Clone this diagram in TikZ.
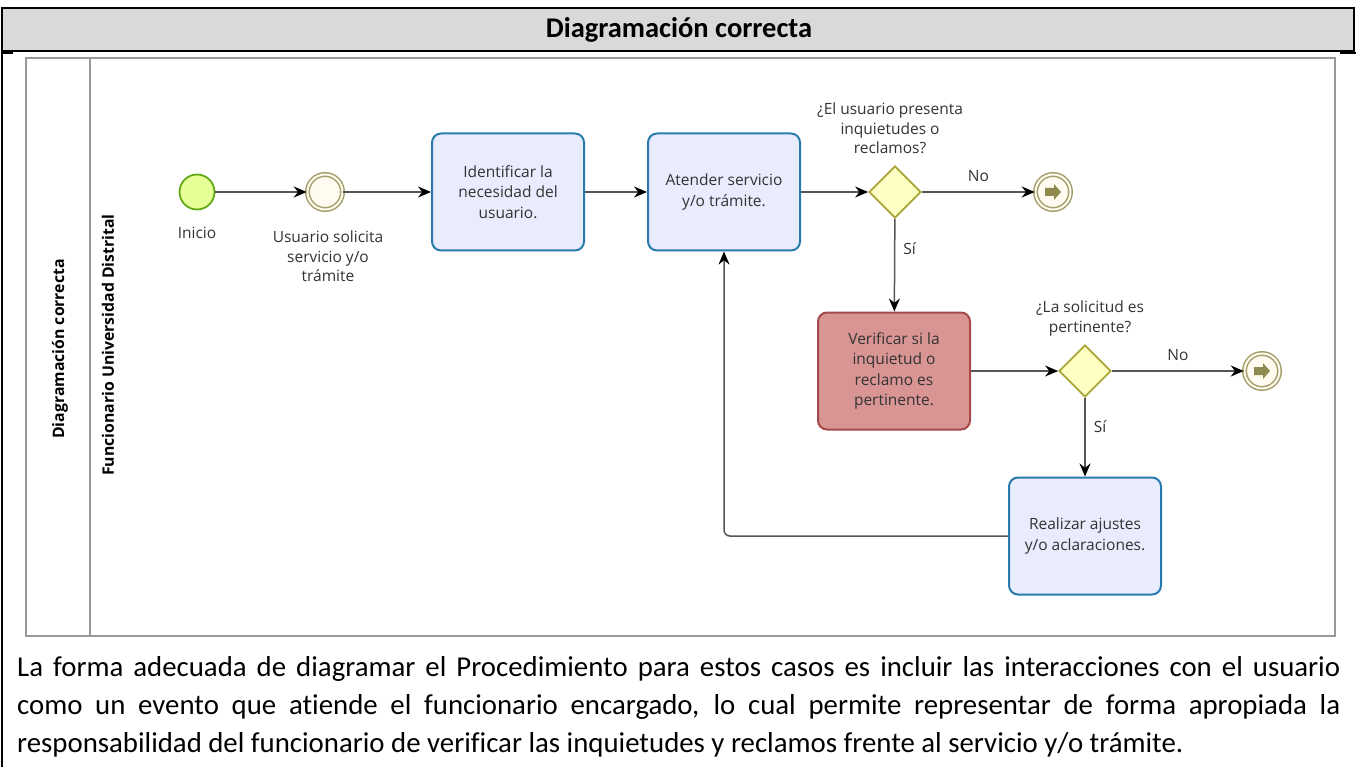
\documentclass[tikz,border=0pt]{standalone}
\usepackage{fontspec}
\setmainfont{Carlito}[Ligatures=NoCommon]
\newfontfamily\dg{Open Sans}
\usetikzlibrary{arrows.meta,shapes.geometric,calc}
\definecolor{taskfill}{HTML}{E8ECFC}
\definecolor{taskline}{HTML}{2A7AB0}
\definecolor{redfill}{HTML}{D99594}
\definecolor{redline}{HTML}{A44A4A}
\definecolor{gwfill}{HTML}{FFFFC4}
\definecolor{gwline}{HTML}{A8A632}
\definecolor{startfill}{HTML}{E6FF97}
\definecolor{startline}{HTML}{62A716}
\definecolor{evline}{HTML}{A39E6A}
\definecolor{evfill}{HTML}{FFFBF0}
\definecolor{endarrow}{HTML}{8E8A4E}
\definecolor{flow}{HTML}{555555}
\definecolor{txt}{HTML}{333333}
\definecolor{hdr}{HTML}{D9D9D9}
\begin{document}
\begin{tikzpicture}[x=1pt,y=-1pt,
  task/.style={draw=taskline,fill=taskfill,line width=2pt,rounded corners=9pt,minimum width=152pt,minimum height=117pt,align=center,font=\dg\fontsize{15.5}{20.5}\selectfont,text=txt,inner sep=0pt},
  redtask/.style={task,draw=redline,fill=redfill},
  gateway/.style={draw=gwline,fill=gwfill,line width=1.8pt,diamond,minimum width=52pt,minimum height=52pt,inner sep=0pt},
  lbl/.style={font=\dg\fontsize{15.5}{19.5}\selectfont,text=txt,align=center,inner sep=0pt},
  flowline/.style={draw=flow,line width=1.5pt,-{Stealth[length=13pt,width=11pt,black]}},
]
\useasboundingbox (0,0) rectangle (1356,767);
% table frame
\fill[hdr] (2,8) rectangle (1354,50);
\draw[line width=2pt] (1,8) -- (1355,8);
\draw[line width=1.5pt] (2,51) -- (1354,51);
\draw[line width=2pt] (2,7) -- (2,767);
\draw[line width=2pt] (1354,7) -- (1354,52);
\draw[line width=1.5pt] (2,53) -- (13,53);
\draw[line width=1.5pt] (1340,53) -- (1356,53);
\node[font=\bfseries\fontsize{28.5}{32}\selectfont] (title) at (679,30) {Diagramación correcta};
% pool
\draw[draw=gray!80,line width=1.5pt] (26,58) rectangle (1335,636);
\draw[draw=gray!80,line width=1.2pt] (90,58) -- (90,636);
\node[rotate=90,font=\dg\bfseries\fontsize{15.8}{18}\selectfont] (pool) at (60,349) {Diagramación correcta};
\node[rotate=90,font=\dg\bfseries\fontsize{15.8}{18}\selectfont] (lane) at (108,345) {Funcionario Universidad Distrital};
% events
\node[circle,draw=startline,fill=startfill,line width=1.8pt,minimum size=35pt,inner sep=0pt] (start) at (197,192) {};
\node[lbl,anchor=north] (startl) at (197,227) {Inicio};
\node[circle,draw=evline,fill=evfill,line width=1.5pt,minimum size=35pt,inner sep=0pt,double=evfill,double distance=2pt] (inter) at (325,192) {};
\node[lbl,anchor=north] (interl) at (328,231) {Usuario solicita\\servicio y/o\\trámite};
% tasks
\node[task] (t1) at (508,192) {Identificar la\\necesidad del\\usuario.};
\node[task] (t2) at (724,192) {Atender servicio\\y/o trámite.};
\node[gateway] (g1) at (895,192) {};
\node[lbl,anchor=south] (g1l) at (890,154) {¿El usuario presenta\\inquietudes o\\reclamos?};
\node[redtask] (t3) at (894,371) {Verificar si la\\inquietud o\\reclamo es\\pertinente.};
\node[gateway] (g2) at (1085,371) {};
\node[lbl,anchor=south] (g2l) at (1090,336) {¿La solicitud es\\pertinente?};
\node[task] (t4) at (1085,536) {Realizar ajustes\\y/o aclaraciones.};
% end events
\foreach \n/\x/\y in {e1/1053/192,e2/1262/371}{
  \node[circle,draw=evline,fill=evfill,line width=1.5pt,minimum size=35pt,inner sep=0pt,double=evfill,double distance=2pt] (\n) at (\x,\y) {};
  \fill[endarrow] ($(\x,\y)+(-8,-4)$) -- ++(9,0) -- ++(0,-4) -- ++(7,8) -- ++(-7,8) -- ++(0,-4) -- ++(-9,0) -- cycle;
}
% flows
\draw[flowline] (start) -- (inter);
\draw[flowline] (inter) -- (t1);
\draw[flowline] (t1) -- (t2);
\draw[flowline] (t2) -- (g1);
\draw[flowline] (g1) -- node[lbl,above=10pt] (no1) {No} (e1);
\draw[flowline] (g1) -- node[lbl,right=8pt,pos=0.32] (si1) {Sí} (t3);
\draw[flowline] (t3) -- (g2);
\draw[flowline] (g2) -- node[lbl,above=10pt] (no2) {No} (e2);
\draw[flowline] (g2) -- node[lbl,right=8pt,pos=0.37] (si2) {Sí} (t4);
\draw[flowline,rounded corners=6pt] (t4.west) -| (t2.south);
% paragraph
\begin{scope}[every node/.style={anchor=base west,inner sep=0pt,font=\fontsize{28.8}{32}\selectfont}]
\node (p1) at (17,676) {\makebox[1323pt][s]{La forma adecuada de diagramar el Procedimiento para estos casos es incluir las interacciones con el usuario}};
\node (p2) at (17,714) {\makebox[1323pt][s]{como un evento que atiende el funcionario encargado, lo cual permite representar de forma apropiada la}};
\node (p3) at (17,752) {responsabilidad del funcionario de verificar las inquietudes y reclamos frente al servicio y/o trámite.};
\end{scope}
\end{tikzpicture}
\end{document}
